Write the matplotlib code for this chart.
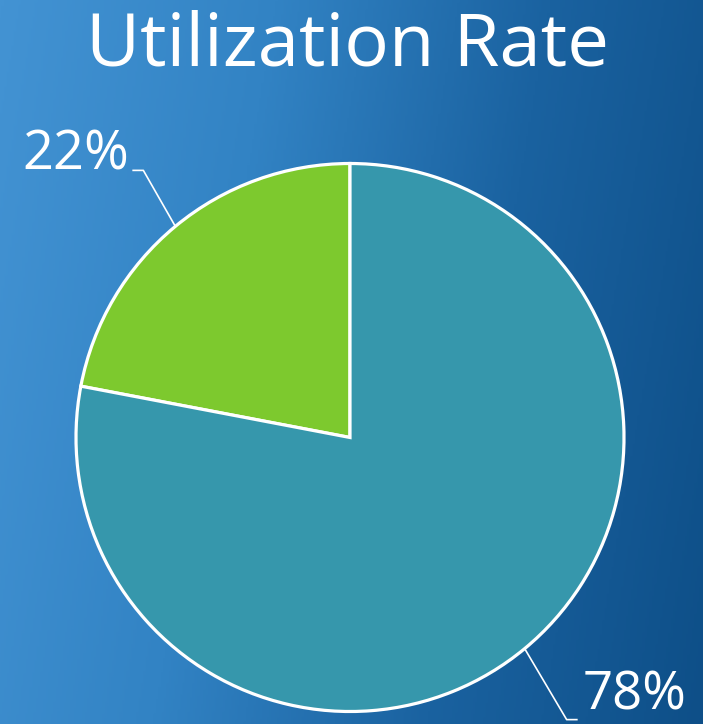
import numpy as np
import matplotlib
matplotlib.use("Agg")
import matplotlib.pyplot as plt
from matplotlib.colors import LinearSegmentedColormap

title = "Utilization Rate"
categories = ["Idle", "Utilized"]
values = [22, 78]
labels = ["22%", "78%"]
colors = ["#7DC92E", "#3697AC"]

W, H = 703, 724
fig = plt.figure(figsize=(W / 100, H / 100), dpi=100)

# background gradient
bg = fig.add_axes([0, 0, 1, 1])
bg.set_axis_off()
xx, yy = np.meshgrid(np.linspace(0, 1, 300), np.linspace(0, 1, 300))
t = 0.85 * xx + 0.15 * yy
cmap = LinearSegmentedColormap.from_list("bg", ["#4393D3", "#3283C4", "#1A62A0", "#0E4F88"])
bg.imshow(t, cmap=cmap, extent=[0, 1, 0, 1], aspect="auto", origin="upper")
bg.set_xlim(0, 1)
bg.set_ylim(0, 1)

ax = fig.add_axes([0, 0, 1, 1])
ax.patch.set_alpha(0)

cx, cy, r = 350, H - 437.5, 274
wedges, _ = ax.pie(values, colors=colors, startangle=90, counterclock=True,
                   center=(cx, cy), radius=r, frame=True,
                   wedgeprops=dict(edgecolor="white", linewidth=2.3))
ax.set_xlim(0, W)
ax.set_ylim(0, H)
ax.set_aspect("auto")
ax.set_axis_off()

font = "Open Sans"
ax.text(cx - 2, H - 66, title, ha="center", va="baseline", color="white",
        fontsize=53.5, family=font)

# labels with leader lines
elbow_off = [(-32, 56), (42, -71)]
tail = [-11, 11]
for w, lab, (ox, oy), tl in zip(wedges, labels, elbow_off, tail):
    ang = np.deg2rad((w.theta1 + w.theta2) / 2)
    px, py = cx + r * np.cos(ang), cy + r * np.sin(ang)
    ex, ey = px + ox, py + oy
    tx = ex + tl
    ax.plot([px, ex, tx], [py, ey, ey], color="white", lw=1.2,
            solid_capstyle="butt", zorder=5)
    if tl < 0:
        ax.text(tx - 3, ey + 1, lab, ha="right", va="baseline",
                color="white", fontsize=39, family=font)
    else:
        ax.text(tx + 5, 1.5, lab, ha="left", va="bottom",
                color="white", fontsize=38, family=font)

fig.savefig("out.png", dpi=100)
